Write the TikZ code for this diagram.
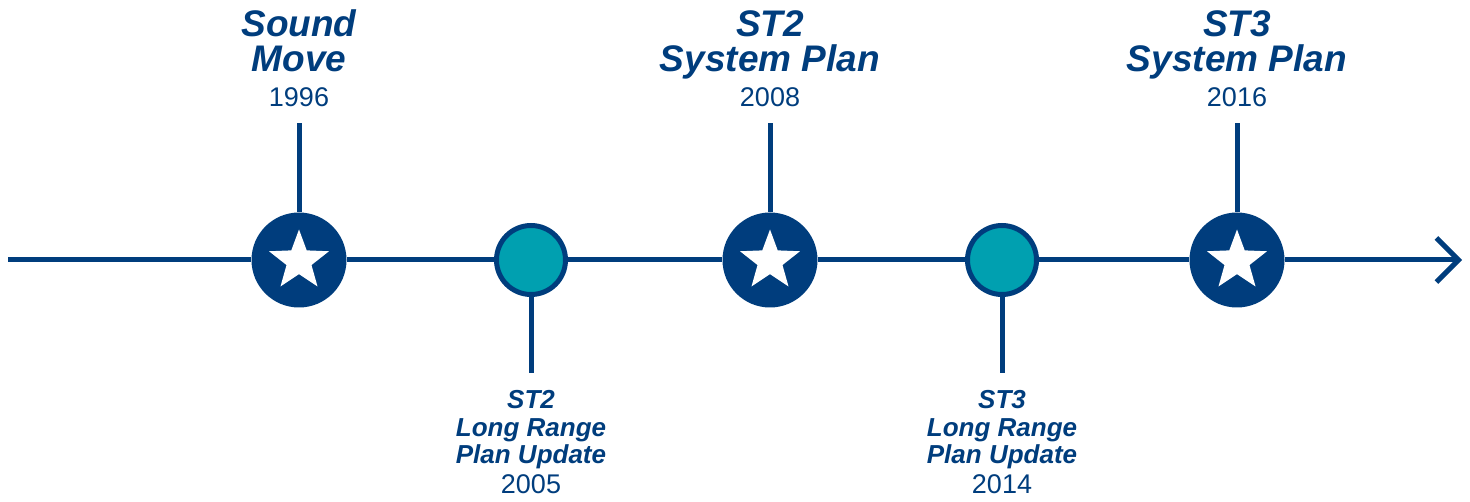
\documentclass[tikz,border=0pt]{standalone}
\usepackage{fontspec}
\setmainfont{Liberation Sans}
\usetikzlibrary{shapes.geometric,arrows.meta}
\definecolor{navy}{RGB}{0,61,125}
\definecolor{tealc}{RGB}{0,160,176}
\begin{document}
\begin{tikzpicture}[x=1pt,y=-1pt,
  axis/.style={draw=navy,line width=5pt},
  bigdot/.style={circle,fill=navy,minimum size=95pt,inner sep=0pt},
  smalldot/.style={circle,fill=tealc,draw=navy,line width=5pt,minimum size=69pt,inner sep=0pt},
  starmark/.style={star,star points=5,star point ratio=2.4,fill=white,minimum size=63pt,inner sep=0pt},
  title/.style={anchor=base,text=navy,inner sep=0pt,font=\fontsize{37}{37}\selectfont\bfseries\itshape},
  sub/.style={anchor=base,text=navy,inner sep=0pt,font=\fontsize{26}{26}\selectfont\bfseries\itshape},
  year/.style={anchor=base,text=navy,inner sep=0pt,font=\fontsize{27}{27}\selectfont}]
\useasboundingbox (0,0) rectangle (1470,502);
% coordinates
\coordinate (start) at (8,260);
\coordinate (tip) at (1462,260);
\coordinate (s1top) at (299,123);
\coordinate (s2top) at (770,123);
\coordinate (s3top) at (1237,123);
\coordinate (t1bot) at (531,373);
\coordinate (t2bot) at (1002,373);
% markers
\node[bigdot] (s1) at (299,260) {};
\node[bigdot] (s2) at (770,260) {};
\node[bigdot] (s3) at (1237,260) {};
\node[smalldot] (t1) at (531,260) {};
\node[smalldot] (t2) at (1002,260) {};
\node[starmark] (st1) at (299,261) {};
\node[starmark] (st2) at (770,261) {};
\node[starmark] (st3) at (1237,261) {};
% axis
\draw[axis] (start) -- (s1);
\draw[axis] (s1) -- (t1);
\draw[axis] (t1) -- (s2);
\draw[axis] (s2) -- (t2);
\draw[axis] (t2) -- (s3);
\draw[axis,-{Straight Barb[length=22pt,width=44pt]}] (s3) -- (tip);
% stems
\draw[axis] (s1) -- (s1top);
\draw[axis] (s2) -- (s2top);
\draw[axis] (s3) -- (s3top);
\draw[axis] (t1) -- (t1bot);
\draw[axis] (t2) -- (t2bot);
% top labels
\node[title] (l1a) at (299,37) {Sound};
\node[title] (l1b) at (299,72) {Move};
\node[year] (l1c) at (299,107) {1996};
\node[title] (l2a) at (770,37) {ST2};
\node[title] (l2b) at (770,72) {System Plan};
\node[year] (l2c) at (770,107) {2008};
\node[title] (l3a) at (1237,37) {ST3};
\node[title] (l3b) at (1237,72) {System Plan};
\node[year] (l3c) at (1237,107) {2016};
% bottom labels
\node[sub] (b1a) at (531,409) {ST2};
\node[sub] (b1b) at (531,436) {Long Range};
\node[sub] (b1c) at (531,463) {Plan Update};
\node[year] (b1d) at (531,493) {2005};
\node[sub] (b2a) at (1002,409) {ST3};
\node[sub] (b2b) at (1002,436) {Long Range};
\node[sub] (b2c) at (1002,463) {Plan Update};
\node[year] (b2d) at (1002,493) {2014};
\end{tikzpicture}
\end{document}
